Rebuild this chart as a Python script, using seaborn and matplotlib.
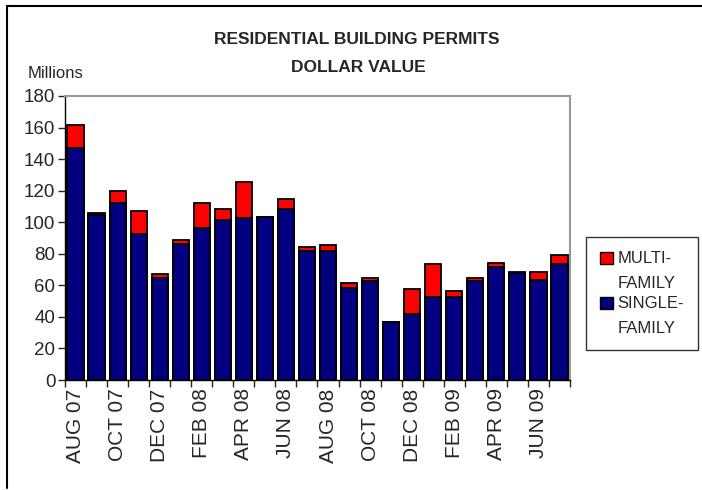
import numpy as np
import pandas as pd
import matplotlib
matplotlib.use("Agg")
import matplotlib.pyplot as plt
import seaborn as sns
from matplotlib.patches import Patch, Rectangle
from matplotlib.legend_handler import HandlerPatch

# Monthly permit values, millions of dollars
months = ["AUG 07", "SEP 07", "OCT 07", "NOV 07", "DEC 07", "JAN 08",
          "FEB 08", "MAR 08", "APR 08", "MAY 08", "JUN 08", "JUL 08",
          "AUG 08", "SEP 08", "OCT 08", "NOV 08", "DEC 08", "JAN 09",
          "FEB 09", "MAR 09", "APR 09", "MAY 09", "JUN 09", "JUL 09"]
single_family = [147, 104.6, 112, 92.5, 64.4, 86.4, 96.3, 101.2, 102.5, 103, 108.4, 81.5,
                 81.5, 58.5, 63, 37, 41.6, 52.4, 52.6, 63, 71.8, 68, 63.6, 73.3]
multi_family = [14.5, 1.4, 7.5, 14.8, 2.8, 2.6, 15.7, 7.4, 22.8, 0.5, 6.3, 2.8,
                3.9, 2.8, 1.6, 0, 15.9, 20.9, 3.6, 1.6, 2.6, 0.2, 4.6, 6.1]

df = pd.DataFrame({"month": months, "single": single_family, "multi": multi_family})
df["total"] = df["single"] + df["multi"]

sns.set_style("white")
plt.rcParams["font.family"] = ["Liberation Sans", "DejaVu Sans"]

fig = plt.figure(figsize=(7.02, 4.90), dpi=100)
ax = fig.add_axes([65 / 702, 110 / 490, 505 / 702, 284 / 490])

# stacked bars: draw totals in red, then single-family on top in navy
sns.barplot(data=df, x="month", y="total", color="#FF0000", edgecolor="black",
            linewidth=1.3, width=0.77, saturation=1, ax=ax)
sns.barplot(data=df, x="month", y="single", color="#000080", edgecolor="black",
            linewidth=1.3, width=0.77, saturation=1, ax=ax)

ax.set_xlim(-0.5, len(months) - 0.5)
ax.set_ylim(0, 180)
ax.set_yticks(range(0, 181, 20))
ax.tick_params(axis="y", labelsize=13.5, length=5, width=1, direction="out", left=True, pad=2)

ax.set_xticks(range(len(months)))
ax.set_xticklabels([m if i % 2 == 0 else "" for i, m in enumerate(months)],
                   rotation=90, fontsize=15)
ax.set_xticks(np.arange(-0.5, len(months), 1), minor=True)
ax.tick_params(axis="x", which="major", length=0, pad=6)
ax.tick_params(axis="x", which="minor", length=5, width=1, direction="out", bottom=True)
ax.set_xlabel("")
ax.set_ylabel("")

for side in ["left", "bottom"]:
    ax.spines[side].set_color("black")
    ax.spines[side].set_linewidth(1)
for side in ["top", "right"]:
    ax.spines[side].set_color("#999999")
    ax.spines[side].set_linewidth(1.5)

fig.text(357 / 702, 1 - 39.5 / 490, "RESIDENTIAL BUILDING PERMITS", ha="center", va="center",
         fontsize=12.5, fontweight="bold")
fig.text(358 / 702, 1 - 67.5 / 490, "DOLLAR VALUE", ha="center", va="center",
         fontsize=12.5, fontweight="bold")
fig.text(28 / 702, 1 - 73 / 490, "Millions", ha="left", va="center", fontsize=12)


# legend squares sit next to the first line of each two-line label
def top_square(legend, orig_handle, xdescent, ydescent, width, height, fontsize):
    return Rectangle((-xdescent, -ydescent + 9.5), width, height)


handles = [Patch(facecolor="#FF0000", edgecolor="black", label="MULTI-\nFAMILY"),
           Patch(facecolor="#000080", edgecolor="black", label="SINGLE-\nFAMILY")]
leg = fig.legend(handles=handles, loc="center", bbox_to_anchor=(642 / 702, 1 - 293.5 / 490),
                 prop={"size": 12}, frameon=True, fancybox=False,
                 edgecolor="black", handlelength=0.75, handleheight=0.75, handletextpad=0.3,
                 labelspacing=0.3, borderpad=0.85, borderaxespad=0,
                 handler_map={Patch: HandlerPatch(patch_func=top_square)})
leg.get_frame().set_linewidth(1)
for t in leg.get_texts():
    t.set_linespacing(1.8)

# outer chart frame
fig.add_artist(plt.Line2D([7 / 702, 1], [1 - 6 / 490, 1 - 6 / 490], color="black", lw=1.5,
                          transform=fig.transFigure))
fig.add_artist(plt.Line2D([7 / 702, 7 / 702], [1 - 6 / 490, 2 / 490], color="black", lw=1.5,
                          transform=fig.transFigure))

fig.savefig("out.png", dpi=100)
